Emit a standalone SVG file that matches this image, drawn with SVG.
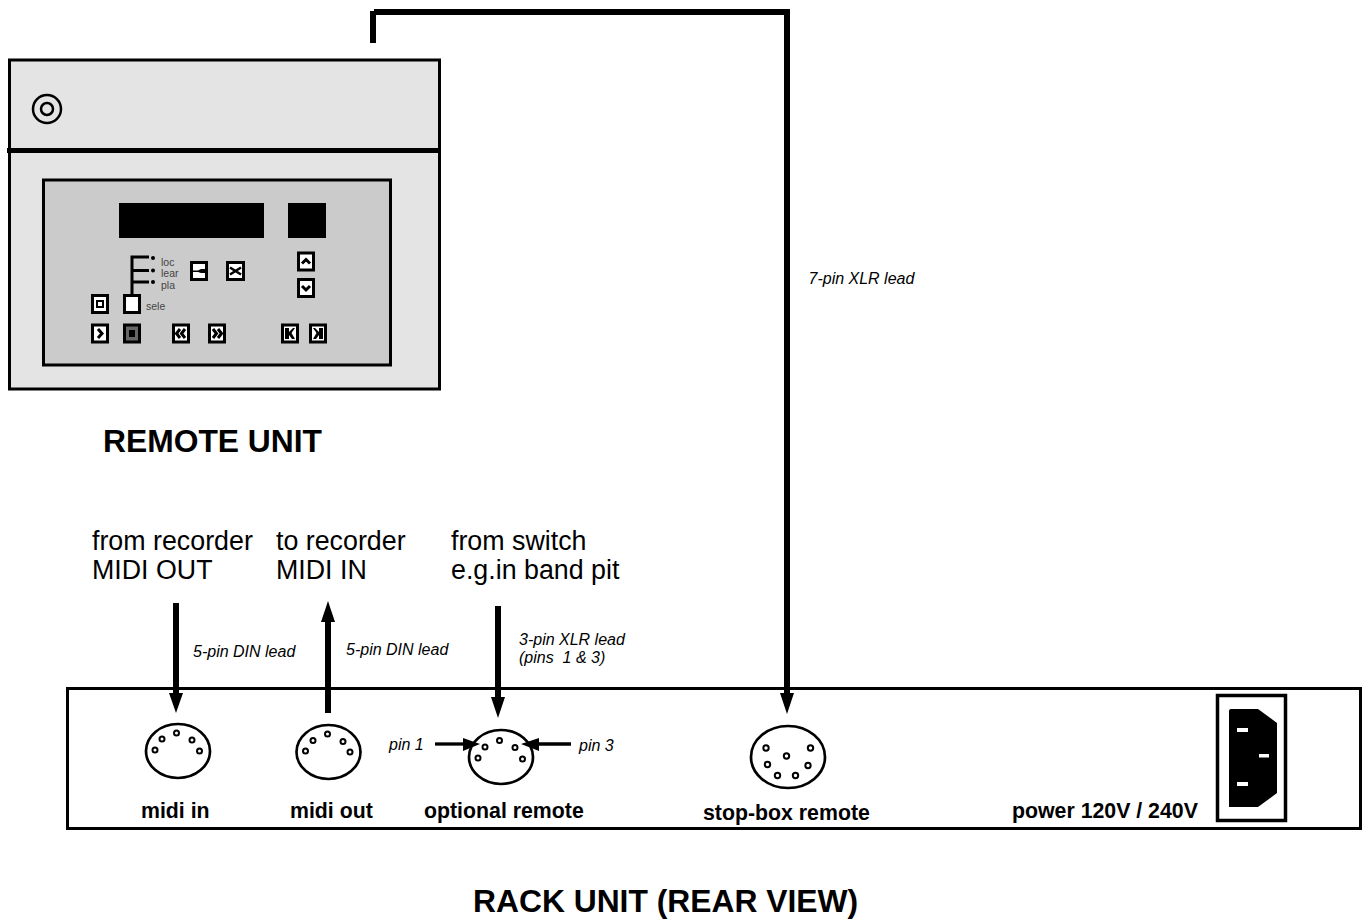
<svg xmlns="http://www.w3.org/2000/svg" width="1366" height="919" viewBox="0 0 1366 919">
<style>
text{font-family:"Liberation Sans",Arial,sans-serif;fill:#000}
.h{font-size:31.8px;font-weight:bold}
.big{font-size:26.8px}
.lab{font-size:21.3px;font-weight:bold}
.it{font-size:16px;font-style:italic}
.tiny{font-size:10.5px;fill:#444}
.btn{fill:#fff;stroke:#000;stroke-width:3}
.sm{fill:none;stroke:#000;stroke-width:3}
.din{fill:#fff;stroke:#000;stroke-width:2.7}
.pin{fill:#fff;stroke:#000;stroke-width:2}
.g{fill:#000}
</style>
<rect width="1366" height="919" fill="#fff"/>
<g id="remote-unit">
<rect x="9.5" y="60" width="430" height="329" fill="#e4e4e4" stroke="#000" stroke-width="3"/>
<path d="M7 150.500H439" stroke="#000" stroke-width="5"/>
<circle cx="47" cy="109" r="14" fill="none" stroke="#000" stroke-width="2.500"/>
<circle cx="47" cy="109" r="6" fill="none" stroke="#000" stroke-width="2.500"/>
<rect x="43.500" y="180" width="347" height="185" fill="#cbcbcb" stroke="#000" stroke-width="3"/>
<rect x="119" y="203" width="145" height="35" fill="#000"/>
<rect x="288" y="203" width="38" height="35" fill="#000"/>
<path d="M132 296V257H149M132 270.500H149M132 282H149" fill="none" stroke="#000" stroke-width="3"/>
<circle cx="153" cy="258" r="2" fill="#000"/>
<circle cx="153" cy="270.500" r="2" fill="#000"/>
<circle cx="153" cy="282" r="2" fill="#000"/>
<text class="tiny" x="161" y="265.500">loc</text>
<text class="tiny" x="161" y="277">lear</text>
<text class="tiny" x="161" y="288.500">pla</text>
<text class="tiny" x="146" y="310">sele</text>
<rect class="btn" x="124.500" y="295.500" width="15" height="17"/>
<rect class="btn" x="92.500" y="295.500" width="15" height="17"/>
<rect x="97" y="301" width="6" height="6" fill="none" stroke="#000" stroke-width="2"/>
<rect class="btn" x="191.500" y="262.500" width="15" height="17"/>
<path d="M193 270.500H198L201 269H205V273H201L198 272H193Z" fill="#000"/>
<rect class="btn" x="227.500" y="262.500" width="16" height="17"/>
<path d="M230 267.500L235.500 271L241 267.500M230 274.500L235.500 271L241 274.500" fill="none" stroke="#000" stroke-width="2.500"/>
<rect class="btn" x="298.500" y="253" width="15" height="17"/>
<path d="M302 263.500L306 259.500L310 263.500" class="sm"/>
<rect class="btn" x="298.500" y="279.500" width="15" height="17"/>
<path d="M302 286L306 290L310 286" class="sm"/>
<rect class="btn" x="92.500" y="325" width="15" height="17"/>
<path d="M98 329L102 333.500L98 338" class="sm"/>
<rect x="124.500" y="325" width="15" height="17" fill="#666" stroke="#000" stroke-width="3"/>
<rect x="129" y="330" width="6" height="7" fill="#000"/>
<rect class="btn" x="173.500" y="325" width="15" height="17"/>
<path d="M180 329L176.500 333.500L180 338M185 329L181.500 333.500L185 338" class="sm"/>
<rect class="btn" x="209.500" y="325" width="15" height="17"/>
<path d="M213 329L216.500 333.500L213 338M218 329L221.500 333.500L218 338" class="sm"/>
<rect class="btn" x="282.500" y="325" width="15" height="17"/>
<path d="M285 328H289V332L293 328H295L291.500 333L295 339H292L289 335V339H285Z" fill="#000"/>
<rect class="btn" x="310.500" y="325" width="15" height="17"/>
<path d="M323 328H319V332L315 328H313L316.500 333L313 339H316L319 335V339H323Z" fill="#000"/>
<text class="h" x="103" y="452">REMOTE UNIT</text>
</g>
<g id="rack-unit">
<rect x="67.500" y="688.500" width="1293" height="140" fill="#fff" stroke="#000" stroke-width="3"/>
<text class="h" x="473" y="912">RACK UNIT (REAR VIEW)</text>
<text class="lab" x="141" y="818">midi in</text>
<text class="lab" x="290" y="818">midi out</text>
<text class="lab" x="424" y="818">optional remote</text>
<text class="lab" x="703" y="820">stop-box remote</text>
<text class="lab" x="1012" y="818">power 120V / 240V</text>
</g>
<g id="midi-in">
<ellipse class="din" cx="178" cy="751" rx="32" ry="27"/>
<circle class="pin" cx="155" cy="750" r="2.500"/>
<circle class="pin" cx="162" cy="739" r="2.500"/>
<circle class="pin" cx="176.500" cy="733" r="2.500"/>
<circle class="pin" cx="192" cy="740" r="2.500"/>
<circle class="pin" cx="199.500" cy="751" r="2.500"/>
</g>
<g id="midi-out">
<ellipse class="din" cx="328.500" cy="752" rx="32" ry="27"/>
<circle class="pin" cx="305.500" cy="751" r="2.500"/>
<circle class="pin" cx="313" cy="740.500" r="2.500"/>
<circle class="pin" cx="327.500" cy="734" r="2.500"/>
<circle class="pin" cx="343" cy="741.500" r="2.500"/>
<circle class="pin" cx="350" cy="752" r="2.500"/>
</g>
<g id="optional-remote">
<ellipse class="din" cx="501" cy="757" rx="32" ry="27"/>
<circle class="pin" cx="478" cy="758" r="2.500"/>
<circle class="pin" cx="485" cy="747" r="2.500"/>
<circle class="pin" cx="499.500" cy="740.500" r="2.500"/>
<circle class="pin" cx="515" cy="747.500" r="2.500"/>
<circle class="pin" cx="522.500" cy="759" r="2.500"/>
</g>
<g id="stop-box-remote">
<ellipse class="din" cx="788" cy="757" rx="37" ry="31"/>
<circle class="pin" cx="766" cy="748" r="2.700"/>
<circle class="pin" cx="810.500" cy="748" r="2.700"/>
<circle class="pin" cx="786.500" cy="756" r="2.700"/>
<circle class="pin" cx="767.500" cy="764.500" r="2.700"/>
<circle class="pin" cx="808" cy="765.500" r="2.700"/>
<circle class="pin" cx="777.500" cy="775.500" r="2.700"/>
<circle class="pin" cx="795.500" cy="775.500" r="2.700"/>
</g>
<g id="power-socket">
<rect x="1217.500" y="695.500" width="68" height="125" fill="#fff" stroke="#000" stroke-width="3.500"/>
<path d="M1229 711Q1229 709 1231 709H1258L1277 723V793L1258 807H1229Z" fill="#000"/>
<rect x="1237" y="728" width="11" height="4" fill="#fff"/>
<rect x="1259" y="754" width="10" height="3.500" fill="#fff"/>
<rect x="1237" y="782" width="11" height="4" fill="#fff"/>
</g>
<g id="connectors">
<path d="M373 43V11M374 12H787V694" fill="none" stroke="#000" stroke-width="6"/>
<path d="M780 693H794L787 714Z" class="g"/>
<path d="M176 603V694" fill="none" stroke="#000" stroke-width="6"/>
<path d="M169 693H183L176 713Z" class="g"/>
<path d="M328 713V620" fill="none" stroke="#000" stroke-width="6"/>
<path d="M321 622H335L328 601Z" class="g"/>
<path d="M498 606V698" fill="none" stroke="#000" stroke-width="6"/>
<path d="M491 697H505L498 718Z" class="g"/>
<path d="M435 744H465" fill="none" stroke="#000" stroke-width="3.300"/>
<path d="M463 738V751L480 744Z" class="g"/>
<path d="M571 744H538" fill="none" stroke="#000" stroke-width="3.300"/>
<path d="M539 738V751L521 744Z" class="g"/>
</g>
<g id="labels">
<text class="big" x="92" y="550">from recorder</text>
<text class="big" x="92" y="579">MIDI OUT</text>
<text class="big" x="276" y="550">to recorder</text>
<text class="big" x="276" y="579">MIDI IN</text>
<text class="big" x="451" y="550">from switch</text>
<text class="big" x="451" y="579">e.g.in band pit</text>
<text class="it" x="808.500" y="284">7-pin XLR lead</text>
<text class="it" x="193" y="657">5-pin DIN lead</text>
<text class="it" x="346" y="655">5-pin DIN lead</text>
<text class="it" x="519" y="645">3-pin XLR lead</text>
<text class="it" x="519" y="663" xml:space="preserve">(pins  1 &amp; 3)</text>
<text class="it" x="389" y="750">pin 1</text>
<text class="it" x="579" y="751">pin 3</text>
</g>
</svg>
